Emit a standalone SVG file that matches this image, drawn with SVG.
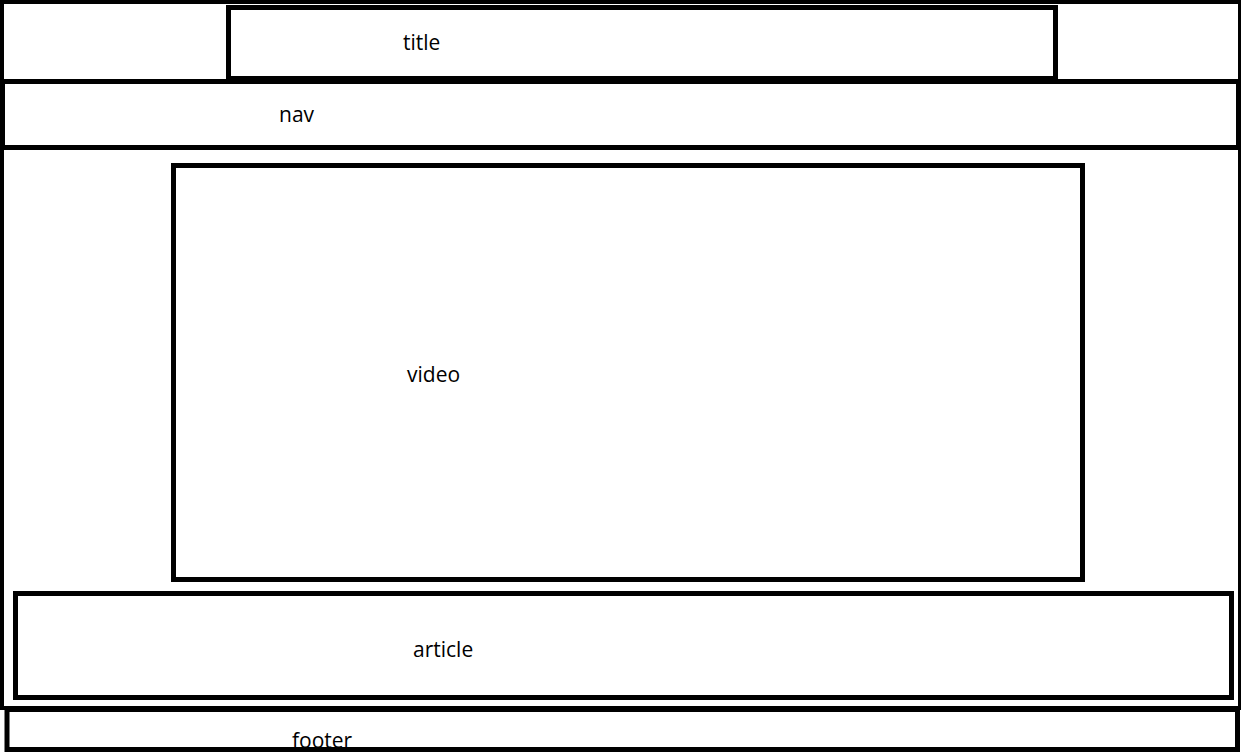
<svg xmlns="http://www.w3.org/2000/svg" width="1241" height="753" viewBox="0 0 1241 753">
<style>
.box{fill:none;stroke:#000;stroke-width:5}
.frame{fill:none;stroke:#000;stroke-width:4}
.lbl{font-family:"Open Sans","Noto Sans",sans-serif;font-size:21px;fill:#000}
</style>
<rect x="0" y="0" width="1241" height="753" fill="#fff"/>
<g id="header">
<rect class="frame" x="2" y="2" width="1238" height="79"/>
</g>
<g id="title">
<rect class="box" x="228.5" y="7.5" width="827" height="71"/>
<text class="lbl" x="403" y="50">title</text>
</g>
<g id="nav">
<rect class="box" x="2.5" y="81.5" width="1236" height="66"/>
<text class="lbl" x="279" y="122">nav</text>
</g>
<g id="main">
<rect class="frame" x="2" y="148" width="1238" height="560"/>
</g>
<g id="video">
<rect class="box" x="173.5" y="165.5" width="909" height="414"/>
<text class="lbl" x="407" y="382">video</text>
</g>
<g id="article">
<rect class="box" x="15.5" y="593.5" width="1216" height="104"/>
<text class="lbl" x="413" y="657">article</text>
</g>
<g id="footer">
<text class="lbl" x="292" y="748">footer</text>
<rect class="box" x="7" y="709.5" width="1230.5" height="40"/>
</g>
<g id="connectors"></g>
</svg>
